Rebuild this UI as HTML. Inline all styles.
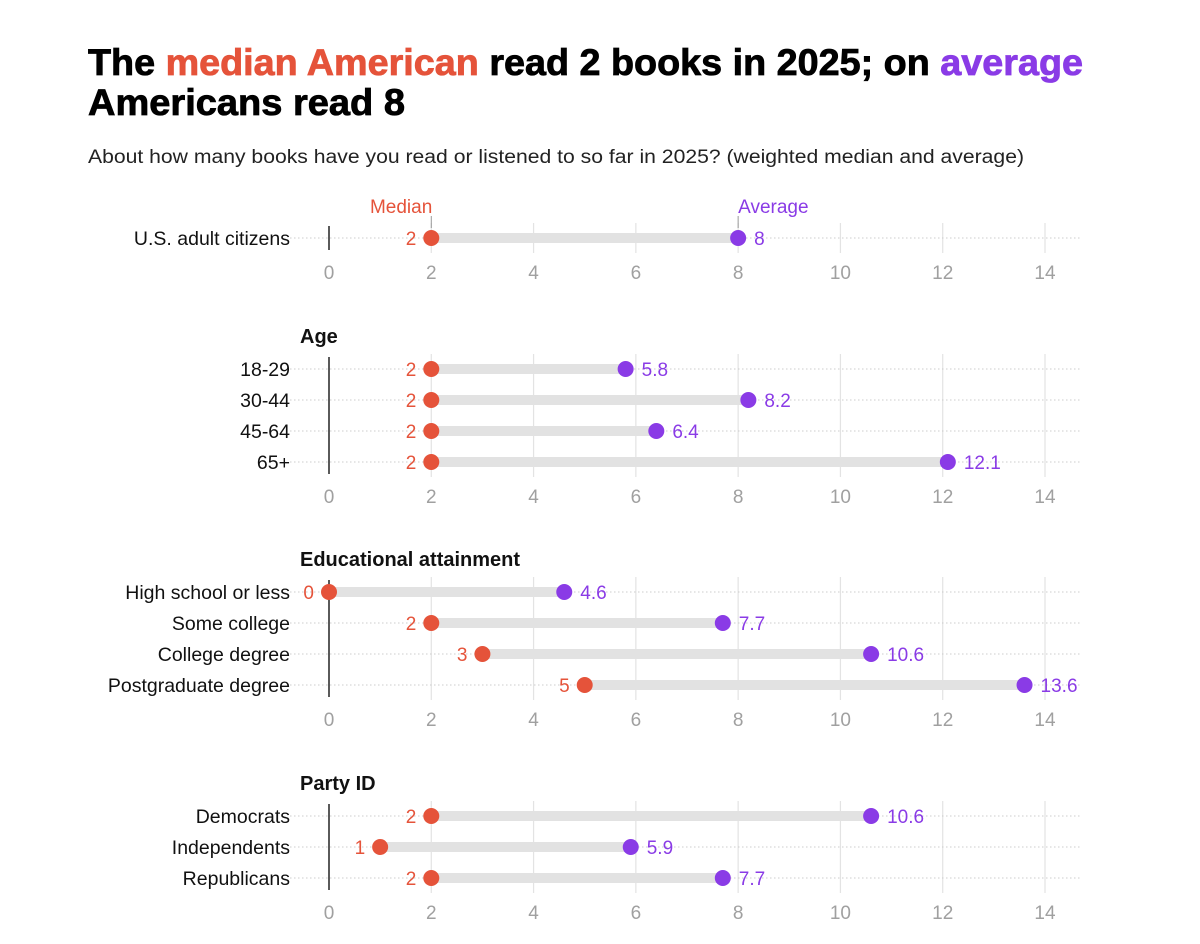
<!DOCTYPE html>
<html><head><meta charset="utf-8"><style>
body{margin:0;background:#fff}
svg{display:block;font-family:"Liberation Sans",sans-serif}
</style></head><body>
<svg id="chart" width="1200" height="944" viewBox="0 0 1200 944">
<text x="88" y="75" font-size="37" font-weight="900" stroke="#000" stroke-width="0.8" textLength="995" lengthAdjust="spacingAndGlyphs">The <tspan fill="#e5533a" stroke="#e5533a">median American</tspan> read 2 books in 2025; on <tspan fill="#8a3be6" stroke="#8a3be6">average</tspan></text>
<text x="88" y="115" font-size="37" font-weight="900" stroke="#000" stroke-width="0.8" textLength="317" lengthAdjust="spacingAndGlyphs">Americans read 8</text>
<text x="88" y="163" font-size="19" fill="#222" textLength="936" lengthAdjust="spacingAndGlyphs">About how many books have you read or listened to so far in 2025? (weighted median and average)</text>
<g id="plot"></g>
</svg>
<script>
const groupNames = ["", "Age", "Educational attainment", "Party ID"];
const rowLabels = [["U.S. adult citizens"],["18-29","30-44","45-64","65+"],["High school or less","Some college","College degree","Postgraduate degree"],["Democrats","Independents","Republicans"]];
const medians = [[2],[2,2,2,2],[0,2,3,5],[2,1,2]];
const averages = [[8],[5.8,8.2,6.4,12.1],[4.6,7.7,10.6,13.6],[10.6,5.9,7.7]];
const ticks = [0,2,4,6,8,10,12,14];

const RED="#e5533a", PURPLE="#8a3be6";
const x = v => 329 + v*(1045-329)/14;
const groupTop = [238, 369, 592, 816];
const rowStep = [31, 31, 31, 31];
const plot = document.getElementById('plot');
const NS="http://www.w3.org/2000/svg";
function mk(tag, attrs, parent, text){
  const e=document.createElementNS(NS,tag);
  for(const k in attrs) e.setAttribute(k,attrs[k]);
  if(text!==undefined) e.textContent=text;
  (parent||plot).appendChild(e); return e;
}
groupNames.forEach((gname,gi)=>{
  const g = mk('g',{});
  
  
  const n = rowLabels[gi].length;
  const ys = rowLabels[gi].map((_,i)=>groupTop[gi]+i*rowStep[gi]);
  const y0 = ys[0]-15, y1 = ys[n-1]+15;
  if(gname){
    const h = mk('text',{x:300,y:ys[0]-26,'font-size':20,'font-weight':'bold',fill:'#111'},g,gname);
    
    
  }
  ticks.forEach(t=>{
    if(t===0) return;
    const l = mk('line',{x1:x(t),x2:x(t),y1:y0,y2:y1,stroke:'#e3e3e3','stroke-width':1.2},g);
    
    
  });
  ys.forEach((y,i)=>{
    const d = mk('line',{x1:290,x2:1080,y1:y,y2:y,stroke:'#ccc','stroke-width':1,'stroke-dasharray':'1.5 2.5'},g);
    
    
  });
  const z = mk('line',{x1:x(0),x2:x(0),y1:y0+3,y2:y1-3,stroke:'#222','stroke-width':1.5},g);
  
  
  ys.forEach((y,i)=>{
    const m=medians[gi][i], a=averages[gi][i];
    const lab = mk('text',{x:290,y:y+7,'font-size':19.5,'text-anchor':'end',fill:'#111'},g,rowLabels[gi][i]);
    
    
    const bar = mk('line',{x1:x(m),x2:x(a),y1:y,y2:y,stroke:'#e2e2e2','stroke-width':10},g);
    
    
    const cm = mk('circle',{cx:x(m),cy:y,r:8,fill:RED},g);
    
    
    const ca = mk('circle',{cx:x(a),cy:y,r:8,fill:PURPLE},g);
    
    
    const tm = mk('text',{x:x(m)-15,y:y+7,'font-size':19,'text-anchor':'end',fill:RED},g,String(m));
    
    
    const ta = mk('text',{x:x(a)+16,y:y+7,'font-size':19,fill:PURPLE},g,String(a));
    
    
    if(gi===0){
      const lm = mk('text',{x:x(m)+1,y:y-25,'font-size':19,'text-anchor':'end',fill:RED},g,'Median');
      
      
      const la = mk('text',{x:x(a),y:y-25,'font-size':19,fill:PURPLE},g,'Average');
      
      
      mk('line',{x1:x(m),x2:x(m),y1:y-22,y2:y-10,stroke:'#999','stroke-width':1},g);
      mk('line',{x1:x(a),x2:x(a),y1:y-22,y2:y-10,stroke:'#999','stroke-width':1},g);
    }
  });
  ticks.forEach(t=>{
    const tl = mk('text',{x:x(t),y:ys[n-1]+41,'font-size':19,'text-anchor':'middle',fill:'#a0a0a0'},g,String(t));
    
    
  });
});
</script>
</body></html>
